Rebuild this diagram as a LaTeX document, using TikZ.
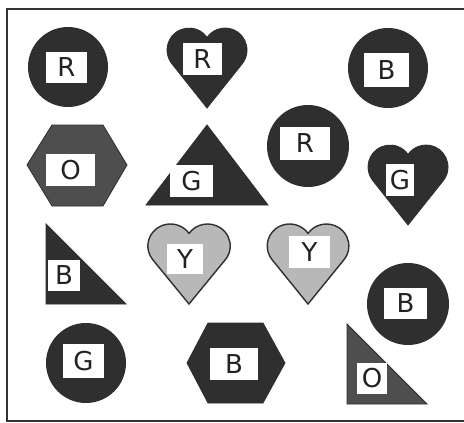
\documentclass[tikz,border=0pt]{standalone}
\usepackage{fontspec}
\setmainfont{DejaVu Sans}
\definecolor{shapedark}{HTML}{2F2F2F}
\definecolor{shapemid}{HTML}{4E4E4E}
\definecolor{shapelight}{HTML}{B8B8B8}
\definecolor{ink}{HTML}{222222}
\definecolor{framec}{HTML}{333333}
\newcommand{\heartshape}[4]{%
  \begin{scope}[shift={(#1,#2)},xscale=#3]
    \draw[#4] (0,80) -- (-35.2,35.7)
      arc[start angle=141.5,end angle=325,radius=22]
      arc[start angle=215,end angle=398.5,radius=22] -- cycle;
  \end{scope}}
\begin{document}
\begin{tikzpicture}[x=1pt,y=-1pt,
  dark/.style={fill=shapedark,draw=shapedark,line width=0.8pt},
  mid/.style={fill=shapemid,draw=shapedark,line width=0.8pt},
  light/.style={fill=shapelight,draw=shapedark,line width=1.4pt},
  lbl/.style={fill=white,inner sep=0pt,text=ink,
    font=\fontsize{26}{26}\selectfont}]
\useasboundingbox (0,0) rectangle (464,423);
\fill[white] (0,0) rectangle (464,423);
\draw[line width=1.5pt,color=framec] (470,9) -- (7,9) -- (7,421) -- (470,421);

% circles
\fill[shapedark] (68,67) circle[radius=40];
\fill[shapedark] (388,68) circle[radius=40];
\fill[shapedark] (308,146) circle[radius=41];
\fill[shapedark] (408,304) circle[radius=41];
\fill[shapedark] (86,363) circle[radius=40];

% hearts
\heartshape{207}{28}{1}{dark}
\heartshape{408}{145}{1}{dark}
\heartshape{189}{224}{1.03}{light}
\heartshape{308}{224}{1.02}{light}

% hexagons
\draw[mid] (27,165) -- (52,125) -- (103,125) -- (127,165) -- (103,206) -- (52,206) -- cycle;
\draw[dark] (187,363) -- (208,323) -- (263,323) -- (285,363) -- (263,403) -- (208,403) -- cycle;

% triangles
\draw[dark] (146,205) -- (207,125) -- (268,205) -- cycle;
\draw[dark] (46,224) -- (46,304) -- (126,304) -- cycle;
\draw[mid] (347,324) -- (347,404) -- (427,404) -- cycle;

% labels
\node[lbl,minimum width=41pt,minimum height=31pt] (l1) at (66.5,67.5) {R};
\node[lbl,minimum width=39pt,minimum height=32pt] (l2) at (202.5,59) {R};
\node[lbl,minimum width=45pt,minimum height=34pt] (l3) at (386.5,70) {B};
\node[lbl,minimum width=49pt,minimum height=32pt] (l4) at (70.5,170) {O};
\node[lbl,minimum width=43pt,minimum height=32pt] (l5) at (191.5,181) {G};
\node[lbl,minimum width=50pt,minimum height=33pt] (l6) at (305,143.5) {R};
\node[lbl,minimum width=28pt,minimum height=32pt] (l7) at (400,180) {G};
\node[lbl,minimum width=32pt,minimum height=31pt] (l8) at (64,275.5) {B};
\node[lbl,minimum width=36pt,minimum height=30pt] (l9) at (185,259) {Y};
\node[lbl,minimum width=41pt,minimum height=32pt] (l10) at (309.5,252) {Y};
\node[lbl,minimum width=43pt,minimum height=31pt] (l11) at (405.5,303.5) {B};
\node[lbl,minimum width=41pt,minimum height=34pt] (l12) at (83.5,361) {G};
\node[lbl,minimum width=48pt,minimum height=32pt] (l13) at (234,364) {B};
\node[lbl,minimum width=30pt,minimum height=31pt] (l14) at (372,378.5) {O};
\end{tikzpicture}
\end{document}
